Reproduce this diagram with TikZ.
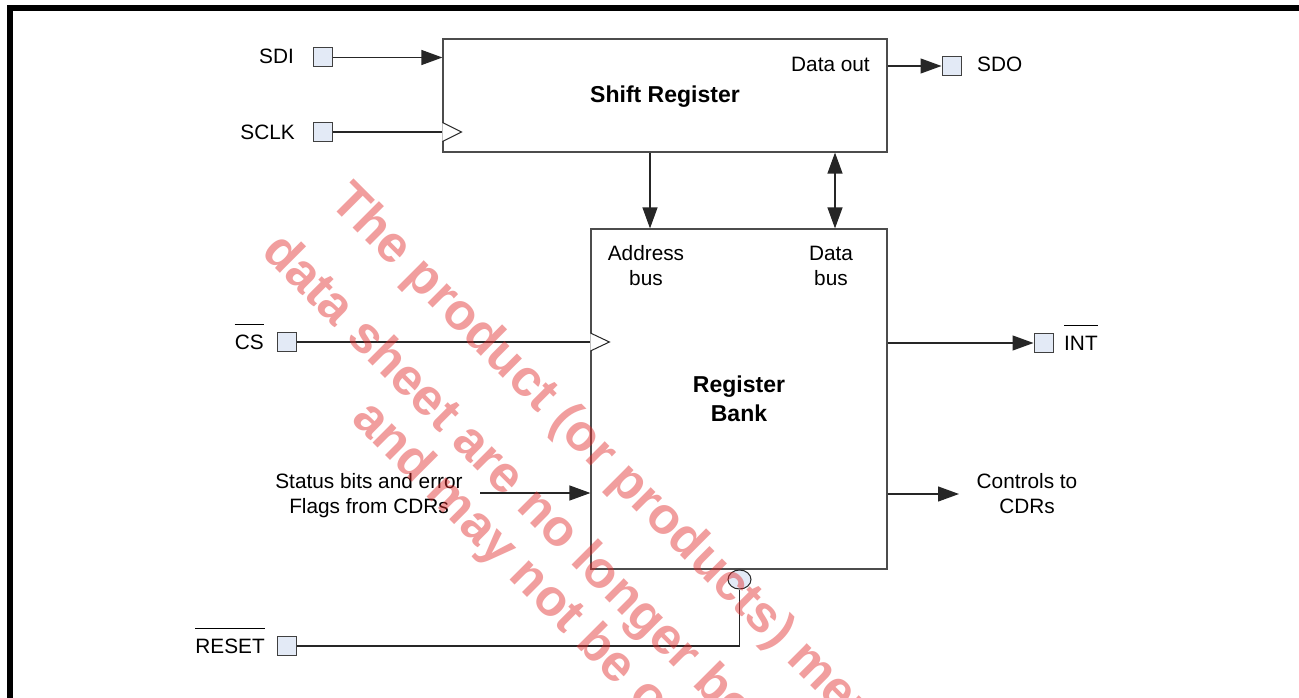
\documentclass[tikz,border=0pt]{standalone}
\usepackage{fontspec}
\setmainfont{Liberation Sans}
\usetikzlibrary{arrows.meta,shapes.geometric}
\definecolor{portfill}{RGB}{227,234,246}
\definecolor{wmred}{RGB}{225,40,40}
\begin{document}
\begin{tikzpicture}[x=1pt,y=-1pt,
  box/.style={draw=black!70, line width=1.2pt, inner sep=0pt},
  port/.style={draw=black!75, fill=portfill, line width=1pt, minimum size=19pt, inner sep=0pt},
  lbl/.style={inner sep=0pt, font=\fontsize{20.8}{25}\selectfont},
  blbl/.style={inner sep=0pt, font=\fontsize{23}{29}\selectfont\bfseries},
  wire/.style={draw=black!85, line width=1.2pt},
  arr/.style={wire, -{Triangle[length=21pt,width=15pt]}},
  darr/.style={wire, {Triangle[length=21pt,width=15pt]}-{Triangle[length=21pt,width=15pt]}},
  clk/.style={draw=black!85, line width=1pt, fill=white},
  ovl/.style={draw=black, line width=1.5pt},
  wm/.style={inner sep=0pt, rotate=-45, text=wmred, text opacity=0.45, font=\fontsize{51.5}{60}\selectfont\bfseries, anchor=base west}
]
\useasboundingbox (0,0) rectangle (1299,698);
\fill[white] (0,0) rectangle (1299,698);
\draw[line width=6.5pt] (10,698) -- (10,8) -- (1299,8);

% blocks
\node[box, minimum width=444pt, minimum height=113pt] (sr) at (665,95.5) {};
\node[box, minimum width=296pt, minimum height=340pt] (rb) at (739,399) {};
\node[blbl, anchor=base] (srt) at (665,103) {Shift Register};
\node[blbl, anchor=base] (rbt1) at (739,392) {Register};
\node[blbl, anchor=base] (rbt2) at (739,421) {Bank};
\node[lbl, anchor=base east] (dout) at (870,72) {Data out};
\node[lbl, anchor=base] (ab1) at (646,260) {Address};
\node[lbl, anchor=base] (ab2) at (646,285) {bus};
\node[lbl, anchor=base] (db1) at (831,260) {Data};
\node[lbl, anchor=base] (db2) at (831,285) {bus};

% ports
\node[port] (sdip) at (322.5,57.5) {};
\node[port] (sclkp) at (322.5,132) {};
\node[port] (sdop) at (951.5,66) {};
\node[port] (csp) at (286.5,342) {};
\node[port] (intp) at (1043.5,343) {};
\node[port] (rstp) at (286.5,646) {};

\node[lbl, anchor=base east] (sdit) at (294,64) {SDI};
\node[lbl, anchor=base east] (sclkt) at (295,140) {SCLK};
\node[lbl, anchor=base west] (sdot) at (977,72) {SDO};
\node[lbl, anchor=base east] (cst) at (264,349) {CS};
\node[lbl, anchor=base west] (intt) at (1064,350) {INT};
\node[lbl, anchor=base east] (rstt) at (265,653) {RESET};
\draw[ovl] ([yshift=10pt]cst.north west) -- ([yshift=10pt]cst.north east);
\draw[ovl] ([yshift=10pt]intt.north west) -- ([yshift=10pt]intt.north east);
\draw[ovl] ([yshift=10pt]rstt.north west) -- ([yshift=10pt]rstt.north east);

\node[lbl, anchor=base] (st1) at (369,488) {Status bits and error};
\node[lbl, anchor=base] (st2) at (369,513) {Flags from CDRs};
\node[lbl, anchor=base] (ct1) at (1027,488) {Controls to};
\node[lbl, anchor=base] (ct2) at (1027,513) {CDRs};

% connectors
\draw[arr] (sdip.east) -- (sdip.east -| sr.west);
\draw[wire] (sclkp.east) -- (sclkp.east -| sr.west);
\coordinate (sclkin) at (sclkp.east -| sr.west);
\draw[clk] ([yshift=9.5pt]sclkin) -- ([xshift=19pt]sclkin) -- ([yshift=-9.5pt]sclkin);
\draw[arr] (sdop.west -| sr.east) -- (sdop.west);
\coordinate (abx) at (650,0);
\coordinate (dbx) at (835,0);
\draw[arr] (abx |- sr.south) -- (abx |- rb.north);
\draw[darr] (dbx |- sr.south) -- (dbx |- rb.north);
\draw[wire] (csp.east) -- (csp.east -| rb.west);
\coordinate (csin) at (csp.east -| rb.west);
\draw[clk] ([yshift=9pt]csin) -- ([xshift=19pt]csin) -- ([yshift=-9pt]csin);
\draw[arr] (rb.east |- intp.west) -- (intp.west);
\coordinate (stst) at (480,493);
\draw[arr] (stst) -- (stst -| rb.west);
\coordinate (ctend) at (959,494);
\draw[arr] (ctend -| rb.east) -- (ctend);
\node[draw=black!85, fill=portfill, line width=1pt, ellipse, minimum width=23pt, minimum height=19pt, inner sep=0pt] (rsti) at (739.5,579.5) {};
\draw[wire] (rstp.east) -| (rsti.south);

% watermark
\begin{scope}
\clip (0,0) rectangle (1299,698);
\node[wm] (wm1) at (328,203) {The product (or products) men};
\node[wm] (wm2) at (260,253) {data sheet are no longer bei};
\node[wm] (wm3) at (350,420) {and may not be or};
\end{scope}
\end{tikzpicture}
\end{document}
